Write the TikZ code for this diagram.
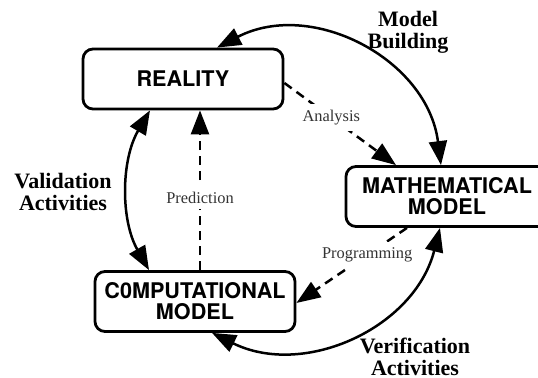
\documentclass[tikz,border=0pt]{standalone}
\usepackage{fontspec}
\setmainfont{Liberation Serif}
\newfontfamily\boxfont{TeX Gyre Heros}
\usetikzlibrary{arrows.meta}
\begin{document}
\begin{tikzpicture}[x=0.5pt,y=-0.5pt,
  stage/.style={draw, line width=1.4pt, rounded corners=5pt, minimum width=100pt,
    minimum height=30pt, align=center, inner sep=0pt,
    font=\boxfont\bfseries\fontsize{10.8}{10.6}\selectfont},
  flow/.style={line width=1.25pt,
    {Triangle[length=12pt,width=9pt]}-{Triangle[length=12pt,width=9pt]}},
  link/.style={line width=1.25pt, dash pattern=on 4.5pt off 3pt,
    -{Triangle[length=12pt,width=9pt]}},
  tag/.style={fill=white, inner xsep=1pt, inner ysep=3pt, text=black!80,
    font=\fontsize{8.2}{9}\selectfont},
  caption/.style={align=center, font=\bfseries\fontsize{11}{11}\selectfont}
]
\useasboundingbox (0,0) rectangle (538,378);
\clip (0,0) rectangle (538,378);

% the three stages
\node[stage] (real) at (183,79) {REALITY};
\node[stage, minimum width=101pt] (math) at (447,196.5) {MATHEMATICAL\\MODEL};
\node[stage] (comp) at (195,301.5) {C0MPUTATIONAL\\MODEL};

% outer cycle of activities
\draw[flow] ([xshift=-3pt]math.north) to[bend right=55, looseness=1.08] ([xshift=17pt]real.north);
\draw[flow] ([xshift=-16.5pt]real.south) to[bend right=30, looseness=0.92] ([xshift=-23pt]comp.north);
\draw[flow] ([xshift=8.5pt]comp.south) to[bend right=51, looseness=1.05] ([xshift=-3.5pt]math.south);

% inner dashed transitions
\draw[link] ([yshift=-2pt]real.east) -- node[tag, pos=0.42] {Analysis} ([xshift=-25.5pt]math.north);
\draw[link] ([xshift=2.5pt]comp.north) -- node[tag, pos=0.455] {Prediction} ([xshift=8.5pt]real.south);
\draw[link] ([xshift=-20pt]math.south) -- node[tag, pos=0.36] {Programming} ([yshift=-0.75pt]comp.east);

% captions of the outer arcs
\node[caption] (mb) at (408,32) {Model\\Building};
\node[caption] (va) at (63,192) {Validation\\Activities};
\node[caption] (vf) at (415,357) {Verification\\Activities};
\end{tikzpicture}
\end{document}
